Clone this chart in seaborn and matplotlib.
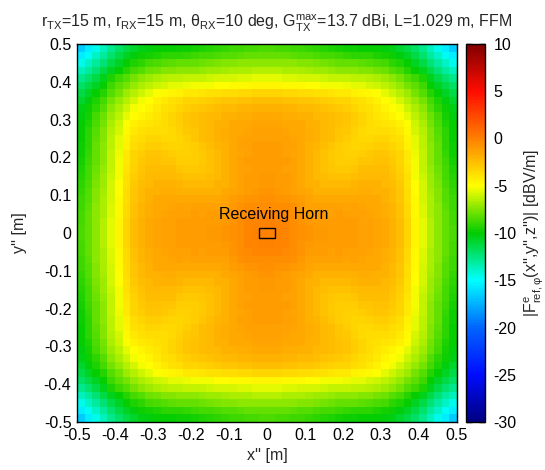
import numpy as np
import pandas as pd
import matplotlib
matplotlib.use("Agg")
import matplotlib.pyplot as plt
import seaborn as sns
from matplotlib.colors import LinearSegmentedColormap
from matplotlib.patches import Rectangle

# ---------------- data (dB values) ----------------
# One quadrant (|x|,|y| from 0.01 to 0.49, step 0.02); the map is mirrored in x and y.
# q_i holds the cells of column |x|-index i for |y|-index 0..i (upper triangle, symmetric).
q00 = [-0.1]
q01 = [-0.1, -0.2]
q02 = [-0.3, -0.3, -0.4]
q03 = [-0.5, -0.5, -0.6, -0.7]
q04 = [-0.7, -0.8, -0.9, -1.0, -1.1]
q05 = [-0.9, -1.0, -1.1, -1.3, -1.5, -1.6]
q06 = [-1.0, -1.1, -1.2, -1.4, -1.7, -1.9, -2.0]
q07 = [-1.0, -1.1, -1.2, -1.4, -1.7, -2.0, -2.3, -2.4]
q08 = [-1.1, -1.1, -1.3, -1.4, -1.7, -2.0, -2.3, -2.6, -2.7]
q09 = [-1.1, -1.1, -1.2, -1.4, -1.7, -2.0, -2.3, -2.6, -2.9, -3.0]
q10 = [-1.2, -1.2, -1.3, -1.5, -1.7, -2.0, -2.3, -2.6, -2.9, -3.1, -3.2]
q11 = [-1.2, -1.2, -1.3, -1.4, -1.6, -1.9, -2.1, -2.4, -2.7, -3.0, -3.2, -3.4]
q12 = [-1.3, -1.3, -1.4, -1.5, -1.6, -1.8, -2.0, -2.3, -2.5, -2.8, -3.1, -3.3, -3.5]
q13 = [-1.4, -1.4, -1.5, -1.6, -1.7, -1.8, -2.0, -2.2, -2.4, -2.7, -2.9, -3.2, -3.5, -3.7]
q14 = [-1.5, -1.5, -1.6, -1.6, -1.7, -1.9, -2.0, -2.2, -2.4, -2.6, -2.8, -3.1, -3.3, -3.6, -3.9]
q15 = [-1.7, -1.7, -1.8, -1.8, -1.9, -2.0, -2.2, -2.3, -2.5, -2.6, -2.8, -3.1, -3.3, -3.7, -4.0,
       -4.3]
q16 = [-2.0, -2.0, -2.1, -2.1, -2.2, -2.3, -2.5, -2.6, -2.7, -2.9, -3.1, -3.3, -3.6, -3.9, -4.2,
       -4.6, -5.0]
q17 = [-2.5, -2.5, -2.6, -2.6, -2.7, -2.8, -2.9, -3.1, -3.2, -3.3, -3.4, -3.6, -3.9, -4.2, -4.5,
       -4.9, -5.3, -5.8]
q18 = [-3.4, -3.4, -3.5, -3.5, -3.6, -3.7, -3.8, -3.9, -4.0, -4.1, -4.2, -4.4, -4.6, -4.8, -5.1,
       -5.5, -6.0, -6.5, -7.0]
q19 = [-4.6, -4.6, -4.7, -4.8, -4.8, -4.9, -5.0, -5.2, -5.3, -5.3, -5.4, -5.5, -5.6, -5.8, -6.0,
       -6.3, -6.7, -7.1, -7.7, -8.2]
q20 = [-5.6, -5.6, -5.7, -5.7, -5.8, -5.9, -5.9, -6.0, -6.1, -6.2, -6.2, -6.3, -6.4, -6.5, -6.7,
       -7.0, -7.3, -7.8, -8.3, -8.9, -9.5]
q21 = [-6.5, -6.5, -6.6, -6.6, -6.7, -6.8, -6.9, -7.0, -7.1, -7.2, -7.2, -7.3, -7.4, -7.5, -7.7,
       -7.9, -8.3, -8.7, -9.3, -9.9, -10.6, -11.3]
q22 = [-7.2, -7.2, -7.3, -7.3, -7.4, -7.5, -7.6, -7.8, -7.9, -8.0, -8.1, -8.1, -8.2, -8.3, -8.5,
       -8.7, -9.1, -9.5, -10.0, -10.7, -11.3, -12.2, -13.0]
q23 = [-8.0, -8.0, -8.1, -8.2, -8.3, -8.4, -8.5, -8.6, -8.7, -8.9, -9.0, -9.1, -9.2, -9.2, -9.4,
       -9.6, -9.8, -10.3, -10.7, -11.4, -12.1, -13.0, -13.8, -14.8]
q24 = [-8.5, -8.6, -8.7, -8.8, -8.9, -9.0, -9.2, -9.3, -9.4, -9.6, -9.7, -9.8, -9.9, -10.0, -10.0,
       -10.2, -10.4, -10.8, -11.3, -12.0, -12.8, -13.7, -14.6, -15.6, -16.7]

x_tick_labels = ["-0.5", "-0.4", "-0.3", "-0.2", "-0.1", "0", "0.1", "0.2", "0.3", "0.4", "0.5"]
y_tick_labels = ["0.5", "0.4", "0.3", "0.2", "0.1", "0", "-0.1", "-0.2", "-0.3", "-0.4", "-0.5"]
cbar_ticks = [-30, -25, -20, -15, -10, -5, 0, 5, 10]

title = ("r$_\\mathrm{TX}$=15 m, r$_\\mathrm{RX}$=15 m, \u03b8$_\\mathrm{RX}$=10 deg, "
         "G$_\\mathrm{TX}^\\mathrm{max}$=13.7 dBi, L=1.029 m, FFM")
xlabel = "x'' [m]"
ylabel = "y'' [m]"
cbar_label = "|F$^\\mathrm{e}_\\mathrm{ref,\u03c6}$(x'',y'',z'')| [dBV/m]"
annot_text = "Receiving Horn"

# ---------------- build grid ----------------
cols = [q00, q01, q02, q03, q04, q05, q06, q07, q08, q09, q10, q11, q12,
        q13, q14, q15, q16, q17, q18, q19, q20, q21, q22, q23, q24]
n = len(cols)
quad = np.zeros((n, n))
for i, col in enumerate(cols):
    for j, v in enumerate(col):
        quad[j, i] = v
        quad[i, j] = v
full = np.block([[quad[::-1, ::-1], quad[::-1, :]],
                 [quad[:, ::-1], quad]])
N = full.shape[0]
xc = np.round(np.linspace(-0.5, 0.5, N + 1)[:-1] + 0.5 / N, 3)
df = pd.DataFrame(full, index=xc[::-1], columns=xc)

cmap = LinearSegmentedColormap.from_list(
    "gp",
    [(0.0, (0.0, 0.0, 0.5)),
     (0.125, (0.0, 0.05, 1.0)),
     (0.25, (0.0, 0.4, 1.0)),
     (0.375, (0.0, 1.0, 1.0)),
     (0.5, (0.0, 0.8, 0.0)),
     (0.625, (1.0, 1.0, 0.0)),
     (0.75, (1.0, 0.5, 0.0)),
     (0.875, (1.0, 0.05, 0.0)),
     (1.0, (0.5, 0.0, 0.0))])

# ---------------- style ----------------
sns.set_style("white")
plt.rcParams["font.family"] = ["Liberation Sans", "DejaVu Sans"]
plt.rcParams["mathtext.fontset"] = "custom"
plt.rcParams["mathtext.rm"] = "Liberation Sans"
plt.rcParams["mathtext.it"] = "Liberation Sans:italic"
plt.rcParams["mathtext.bf"] = "Liberation Sans:bold"
FS = 11.5

W, H = 545, 470
fig = plt.figure(figsize=(W / 100, H / 100), dpi=100)
ax = fig.add_axes([77 / W, 1 - 422 / H, 380 / W, 378 / H])
cax = fig.add_axes([466 / W, 1 - 422 / H, 19 / W, 378 / H])

sns.heatmap(df, ax=ax, cbar_ax=cax, cmap=cmap, vmin=-30, vmax=10,
            xticklabels=False, yticklabels=False, square=False)


def to_col(x):
    return (x + 0.5) * N


def to_row(y):
    return (0.5 - y) * N


ax.set_xticks([to_col(v) for v in np.linspace(-0.5, 0.5, 11)])
ax.set_xticklabels(x_tick_labels)
ax.set_yticks([to_row(v) for v in np.linspace(0.5, -0.5, 11)])
ax.set_yticklabels(y_tick_labels, rotation=0)
ax.tick_params(axis="both", length=0, labelsize=FS, pad=4, colors="black")
ax.set_xlim(0, N)
ax.set_ylim(N, 0)
for sp in ax.spines.values():
    sp.set_visible(True)
    sp.set_color("black")
    sp.set_linewidth(1.0)

ax.set_xlabel(xlabel, fontsize=FS, labelpad=4)
ax.set_ylabel(ylabel, fontsize=FS, labelpad=12)
ax.set_title(title, fontsize=FS, pad=12, x=0.524)

# receiving horn marker + label
ax.add_patch(Rectangle((to_col(-0.02), to_row(0.012)), to_col(0.02) - to_col(-0.02),
                       to_row(-0.012) - to_row(0.012), fill=False, edgecolor="black",
                       linewidth=1.0))
ax.text(to_col(0.017), to_row(0.05), annot_text, fontsize=FS, ha="center", va="center",
        color="black")

cbar = ax.collections[0].colorbar
cbar.set_ticks(cbar_ticks)
cbar.set_ticklabels([str(t) for t in cbar_ticks])
cbar.outline.set_visible(True)
cbar.outline.set_edgecolor("black")
cbar.outline.set_linewidth(1.0)
cax.tick_params(axis="y", direction="in", length=4, width=1, left=True, right=True,
                labelsize=FS, pad=6, colors="black")
cbar.set_label(cbar_label, fontsize=FS, labelpad=4)

fig.savefig("out.png", dpi=100)
